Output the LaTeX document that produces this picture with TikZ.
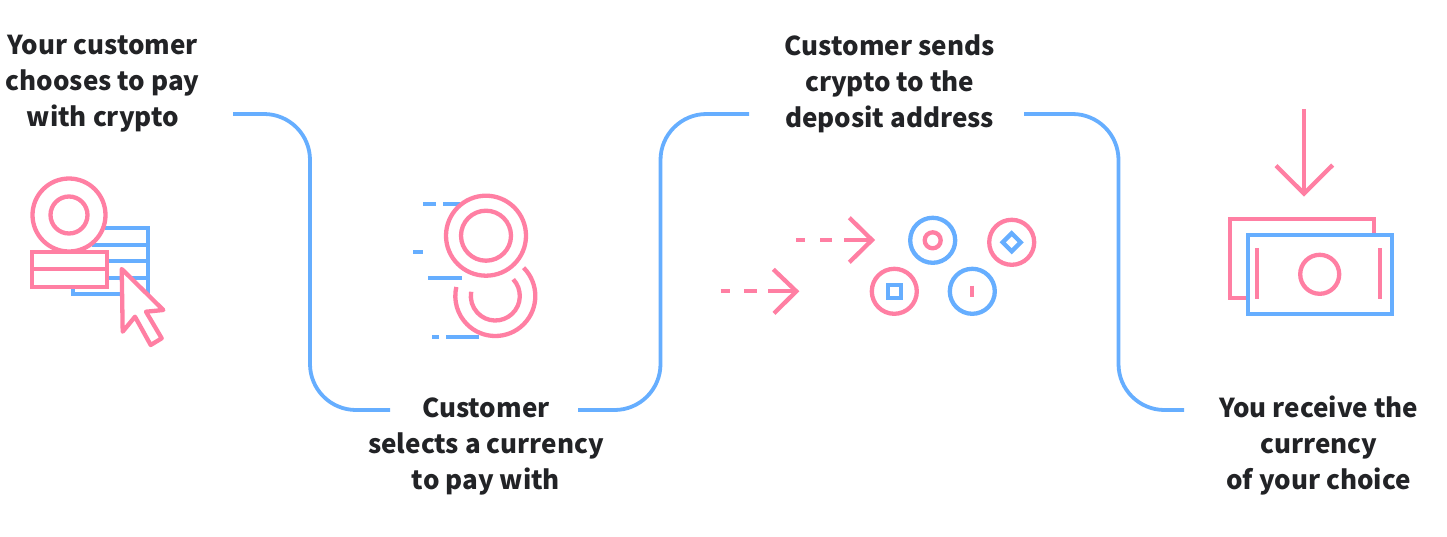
\documentclass[tikz,border=0pt]{standalone}
\usepackage{fontspec}
\setmainfont{Noto Sans CJK SC}
\definecolor{pk}{HTML}{FF7FA3}
\definecolor{bl}{HTML}{66AEFF}
\definecolor{ink}{HTML}{222326}
\tikzset{
 lab/.style={font=\fontsize{26}{36}\selectfont\bfseries,text=ink,align=center,inner sep=0pt},
 conn/.style={draw=bl,line width=3.8pt,rounded corners=46pt},
 pl/.style={draw=pk,line width=4.3pt},
 bll/.style={draw=bl,line width=4.3pt},
 coinp/.style={draw=pk,line width=4.3pt},
 coinb/.style={draw=bl,line width=4.3pt},
}
\begin{document}
\begin{tikzpicture}[x=1pt,y=-1pt]
\useasboundingbox (0,0) rectangle (1447,536);
\node[lab] (t1) at (102.7,84) {Your customer\\chooses to pay\\with crypto};
\node[lab] (t2) at (486,446) {Customer\\selects a currency\\to pay with};
\node[lab] (t3) at (889.7,84) {Customer sends\\crypto to the\\deposit address};
\node[lab] (t4) at (1318.7,446) {You receive the\\currency\\of your choice};
\coordinate (a1) at (233,114);\coordinate (a2) at (390,410);
\coordinate (b1) at (578,410);\coordinate (b2) at (749,114);
\coordinate (c1) at (1024,114);\coordinate (c2) at (1184,410);
\path[conn] (a1) -- (310,114) -- (310,410) -- (a2);
\path[conn] (b1) -- (660.5,410) -- (660.5,114) -- (b2);
\path[conn] (c1) -- (1118.5,114) -- (1118.5,410) -- (c2);
% icon 1
\draw[bll] (105,228) -- (147.7,228) -- (147.7,300);
\draw[bll] (92,245) -- (147.7,245);
\draw[bll] (107,261) -- (147.7,261);
\draw[bll] (107,277.7) -- (147.7,277.7);
\draw[bll] (72.7,287) -- (72.7,294.3) -- (125,294.3);
\draw[pl] (69,215) circle (36.5);
\draw[pl] (69,215) circle (18.5);
\draw[pl] (31.7,252.3) rectangle (107,286.7);
\draw[pl] (31.7,269.3) -- (107,269.3);
\draw[pl,fill=white,line join=round] (121.7,269) -- (163.3,310) -- (146,311.7) -- (161.7,338.3) -- (150.7,345) -- (135,316.7) -- (122.7,331.7) -- cycle;
% icon 2
\draw[bll] (423.3,204) -- (436,204) (443.3,204) -- (460,204);
\draw[bll] (413.3,252.3) -- (423.3,252.3);
\draw[bll] (428.3,278) -- (461.7,278);
\draw[bll] (432.3,336.7) -- (438.7,336.7) (446,336.7) -- (479.3,336.7);
\draw[pl] (486,235.7) circle (40);
\draw[pl] (486,235.7) circle (25);
\draw[pl] (495.3,296) ++(-45:40) arc[start angle=-45,end angle=-45+238,radius=40];
\draw[pl] (495.3,296) ++(-43:24.5) arc[start angle=-43,end angle=-43+233,radius=24.5];
% icon 3
\draw[pl] (796,240) -- (805,240) (820,240) -- (832.3,240) (844,240) -- (871,240);
\draw[pl] (849.3,217.7) -- (872,240) -- (849.3,262.3);
\draw[pl] (720.7,291.3) -- (730,291.3) (744.3,291.3) -- (756.7,291.3) (768.3,291.3) -- (795.5,291.3);
\draw[pl] (773.3,269.3) -- (796.3,291.3) -- (774,313.3);
\draw[coinb] (932.7,240.3) circle (22.5);
\draw[coinp] (932.7,240.3) circle (8);
\draw[coinp] (1011.7,242.3) circle (22.5);
\draw[coinb] (1011.7,233.3) -- (1020.7,242.3) -- (1011.7,251.3) -- (1002.7,242.3) -- cycle;
\draw[coinp] (894.3,291.3) circle (22.5);
\draw[coinb] (887.8,284.8) rectangle (900.8,297.8);
\draw[coinb] (972.3,291.3) circle (22.5);
\draw[coinp] (972.3,285.7) -- (972.3,297.3);
% icon 4
\draw[pl] (1304,109.3) -- (1304,193);
\draw[pl] (1276,165.7) -- (1304,193.5) -- (1332.7,165);
\draw[pl] (1247.7,298) -- (1229.7,298) -- (1229.7,219) -- (1374,219) -- (1374,235);
\draw[bll] (1247.7,235) rectangle (1392,314);
\draw[pl] (1257,248.3) -- (1257,299);
\draw[pl] (1380,248.3) -- (1380,299);
\draw[pl] (1319.7,274.3) circle (19.5);
\end{tikzpicture}
\end{document}
